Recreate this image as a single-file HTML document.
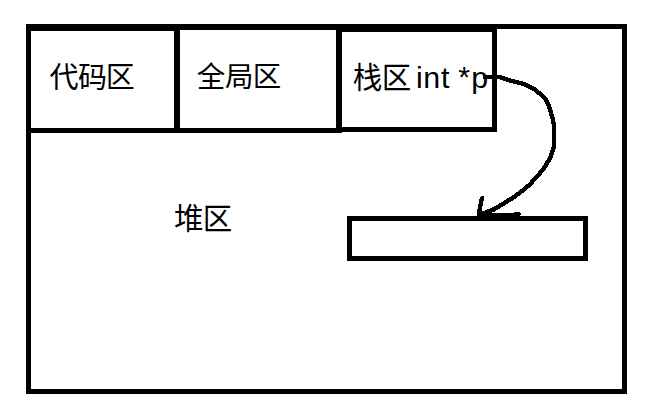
<!DOCTYPE html>
<html lang="zh">
<head>
<meta charset="utf-8">
<title>内存分区：代码区 全局区 栈区 堆区</title>
<style>
html,body{margin:0;padding:0;background:#fff;}
body{width:654px;height:418px;overflow:hidden;font-family:"Liberation Sans",sans-serif;}
svg{display:block;position:absolute;left:0;top:0;}
.ln{fill:#000;shape-rendering:crispEdges;}
.cjk text{font-family:"Liberation Sans","Noto Sans CJK SC",sans-serif;fill:#000;}
.lat{font-family:"Liberation Sans",sans-serif;font-size:30.4px;fill:#000;}
</style>
</head>
<body>
<svg width="654" height="418" viewBox="0 0 654 418" role="img" aria-label="代码区 全局区 栈区 int *p 堆区">
<rect width="654" height="418" fill="#fff"/>
<g class="ln">
<rect x="26" y="24" width="601" height="5"/>
<rect x="26" y="389" width="601" height="5"/>
<rect x="26" y="24" width="5" height="370"/>
<rect x="622" y="24" width="5" height="370"/>
<rect x="26" y="24" width="154" height="7"/>
<rect x="174" y="24" width="168" height="6"/>
<rect x="336" y="24" width="161" height="8"/>
<rect x="174" y="24" width="6" height="109"/>
<rect x="336" y="24" width="6" height="109"/>
<rect x="492" y="24" width="5" height="108"/>
<rect x="26" y="128" width="316" height="5"/>
<rect x="336" y="127" width="161" height="5"/>
<rect x="347" y="216" width="241" height="5"/>
<rect x="347" y="256" width="241" height="5"/>
<rect x="347" y="216" width="5" height="45"/>
<rect x="583" y="216" width="5" height="45"/>
</g>
<g class="cjk">
<text y="88.2" font-size="29"><tspan x="49.4">代</tspan><tspan x="78.1">码</tspan><tspan x="105.8">区</tspan></text>
<text y="86.8" font-size="28.5"><tspan x="196.8">全</tspan><tspan x="225.1">局</tspan><tspan x="252.8">区</tspan></text>
<text y="88.2" font-size="29.5"><tspan x="352.8">栈</tspan><tspan x="381.7">区</tspan></text>
<text y="229" font-size="29.5"><tspan x="174">堆</tspan><tspan x="202.8">区</tspan></text>
</g>
<text class="lat" y="87.7"><tspan x="415.9">i</tspan><tspan x="423.2">n</tspan><tspan x="441">t</tspan><tspan x="458.3" dy="-1">*</tspan><tspan x="471.2" dy="1">p</tspan></text>
<path class="ln" d="M482.5,76 L483.5,75 L500,75 L501,76 L501,78 L500,79 L483.5,79 L482.5,78ZM497,76 L498,75 L500,75 L506,76.9 L507,77.9 L507,79.9 L506,80.9 L504,80.9 L498,79 L497,78ZM503,77.9 L504,76.9 L506,76.9 L515.5,79.8 L516.5,80.8 L516.5,82.8 L515.5,83.8 L513.5,83.8 L504,80.9 L503,79.9ZM512.5,80.8 L513.5,79.8 L515.5,79.8 L520,80.7 L521,81.7 L521,83.7 L520,84.7 L518,84.7 L513.5,83.8 L512.5,82.8ZM517,81.7 L518,80.7 L520,80.7 L524.5,82 L525.5,83 L525.5,85 L524.5,86 L522.5,86 L518,84.7 L517,83.7ZM521.5,83 L522.5,82 L524.5,82 L529.2,83.9 L530.2,84.9 L530.2,86.9 L529.2,87.9 L527.2,87.9 L522.5,86 L521.5,85ZM526.2,84.9 L527.2,83.9 L529.2,83.9 L535.5,87.3 L536.5,88.3 L536.5,90.3 L535.5,91.3 L533.5,91.3 L527.2,87.9 L526.2,86.9ZM532.5,88.3 L533.5,87.3 L535.5,87.3 L541,91.8 L542,92.8 L542,94.8 L541,95.8 L539,95.8 L533.5,91.3 L532.5,90.3ZM538,92.8 L539,91.8 L541,91.8 L546.5,96.8 L547.5,97.8 L547.5,99.8 L546.5,100.8 L544.5,100.8 L539,95.8 L538,94.8ZM543.5,97.8 L544.5,96.8 L546.5,96.8 L547.5,97.8 L550.4,104 L550.4,106 L549.4,107 L547.4,107 L546.4,106 L543.5,99.8ZM546.4,104 L547.4,103 L549.4,103 L550.4,104 L552.5,110.4 L552.5,112.4 L551.5,113.4 L549.5,113.4 L548.5,112.4 L546.4,106ZM548.5,110.4 L549.5,109.4 L551.5,109.4 L552.5,110.4 L554.5,117 L554.5,119 L553.5,120 L551.5,120 L550.5,119 L548.5,112.4ZM550.5,117 L551.5,116 L553.5,116 L554.5,117 L556,125 L556,127 L555,128 L553,128 L552,127 L550.5,119ZM552,125 L553,124 L555,124 L556,125 L556,147 L555,148 L553,148 L552,147ZM550.7,149.5 L552,145 L553,144 L555,144 L556,145 L556,147 L554.7,151.5 L553.7,152.5 L551.7,152.5 L550.7,151.5ZM548.9,154.9 L550.7,149.5 L551.7,148.5 L553.7,148.5 L554.7,149.5 L554.7,151.5 L552.9,156.9 L551.9,157.9 L549.9,157.9 L548.9,156.9ZM546.2,160.4 L548.9,154.9 L549.9,153.9 L551.9,153.9 L552.9,154.9 L552.9,156.9 L550.2,162.4 L549.2,163.4 L547.2,163.4 L546.2,162.4ZM542.8,165.8 L546.2,160.4 L547.2,159.4 L549.2,159.4 L550.2,160.4 L550.2,162.4 L546.8,167.8 L545.8,168.8 L543.8,168.8 L542.8,167.8ZM538.7,171.3 L542.8,165.8 L543.8,164.8 L545.8,164.8 L546.8,165.8 L546.8,167.8 L542.7,173.3 L541.7,174.3 L539.7,174.3 L538.7,173.3ZM533.7,176.7 L538.7,171.3 L539.7,170.3 L541.7,170.3 L542.7,171.3 L542.7,173.3 L537.7,178.7 L536.7,179.7 L534.7,179.7 L533.7,178.7ZM528.9,182.4 L533.7,176.7 L534.7,175.7 L536.7,175.7 L537.7,176.7 L537.7,178.7 L532.9,184.4 L531.9,185.4 L529.9,185.4 L528.9,184.4ZM526,185 L527,184 L529.9,181.4 L531.9,181.4 L532.9,182.4 L532.9,184.4 L531.9,185.4 L529,188 L527,188 L526,187ZM518.7,191.2 L519.7,190.2 L527,184 L529,184 L530,185 L530,187 L529,188 L521.7,194.2 L519.7,194.2 L518.7,193.2ZM509.6,197.6 L510.6,196.6 L519.7,190.2 L521.7,190.2 L522.7,191.2 L522.7,193.2 L521.7,194.2 L512.6,200.6 L510.6,200.6 L509.6,199.6ZM500.5,203.2 L501.5,202.2 L510.6,196.6 L512.6,196.6 L513.6,197.6 L513.6,199.6 L512.6,200.6 L503.5,206.2 L501.5,206.2 L500.5,205.2ZM491.5,208.5 L492.5,207.5 L501.5,202.2 L503.5,202.2 L504.5,203.2 L504.5,205.2 L503.5,206.2 L494.5,211.5 L492.5,211.5 L491.5,210.5ZM483.3,211.6 L484.3,210.6 L492.5,207.5 L494.5,207.5 L495.5,208.5 L495.5,210.5 L494.5,211.5 L486.3,214.6 L484.3,214.6 L483.3,213.6ZM479,212.5 L480,211.5 L484.3,210.6 L486.3,210.6 L487.3,211.6 L487.3,213.6 L486.3,214.6 L482,215.5 L480,215.5 L479,214.5Z"/>
<path class="ln" d="M478.5,204 L480,197 L481,196 L483,196 L484,197 L484,199 L482.5,206 L481.5,207 L479.5,207 L478.5,206ZM477,211 L478.5,204 L479.5,203 L481.5,203 L482.5,204 L482.5,206 L481,213 L480,214 L478,214 L477,213ZM477,211 L478,210 L480,210 L481,211 L481,215 L480,216 L478,216 L477,215Z"/>
<path class="ln" d="M477,214 L478,213 L514,213 L515,214 L515,216 L514,217 L478,217 L477,216ZM513,213 L514,212 L519.7,212 L520.7,213 L520.7,215 L519.7,216 L514,216 L513,215Z"/>
</svg>
</body>
</html>
